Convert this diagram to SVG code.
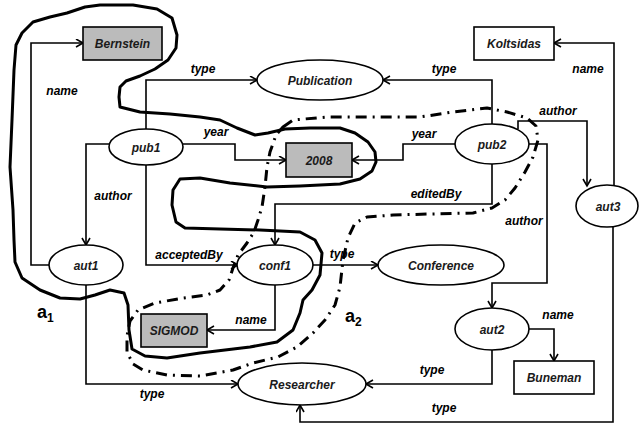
<svg xmlns="http://www.w3.org/2000/svg" width="641" height="426" viewBox="0 0 641 426">
<defs>
<marker id="arr" markerUnits="userSpaceOnUse" markerWidth="10" markerHeight="10" refX="8" refY="4.5" orient="auto">
<path d="M1,0.5 L8,4.5 L1,8.5" fill="none" stroke="#000" stroke-width="1.6"/>
</marker>
<style>
.e{fill:none;stroke:#000;stroke-width:1.6;marker-end:url(#arr)}
.n{fill:#fff;stroke:#000;stroke-width:1.6}
.g{fill:#bbbbbb;stroke:#000;stroke-width:1.6}
.t{font-family:"Liberation Sans",Arial,sans-serif;font-size:12px;font-weight:bold;font-style:italic;text-anchor:middle;fill:#1a1a1a}
.l{font-family:"Liberation Sans",Arial,sans-serif;font-size:12px;font-weight:bold;font-style:italic;text-anchor:middle;fill:#000}
.a{font-family:"Liberation Sans",Arial,sans-serif;font-size:18px;font-weight:bold;fill:#000}
.c1{fill:none;stroke:#000;stroke-width:3;stroke-linejoin:round;stroke-linecap:round}
.c2{fill:none;stroke:#000;stroke-width:3;stroke-dasharray:11,6,2,6;stroke-linejoin:round}
</style>
</defs>
<rect width="641" height="426" fill="#fff"/>
<g id="connectors">
<path class="e" d="M49,265 H31 V43 H83"/>
<path class="e" d="M146,129 V80 H257"/>
<path class="e" d="M183,144 H235 V160 H286"/>
<path class="e" d="M110,144 H86 V245"/>
<path class="e" d="M146,165 V265 H238"/>
<path class="e" d="M492,124 V80 H383"/>
<path class="e" d="M455,144 H403 V160 H352"/>
<path class="e" d="M492,164 V204 H275 V245"/>
<path class="e" d="M518,129 V121 H587 V186"/>
<path class="e" d="M529,144 H547 V283 H492 V308"/>
<path class="e" d="M614,186 V43 H554"/>
<path class="e" d="M613,226 V422 H300 V405"/>
<path class="e" d="M492,350 V384 H366"/>
<path class="e" d="M529,329 H554 V361"/>
<path class="e" d="M86,285 V384 H238"/>
<path class="e" d="M313,265 H378"/>
<path class="e" d="M275,285 V330 H207"/>
<text class="l" x="62" y="95">name</text>
<text class="l" x="203" y="73">type</text>
<text class="l" x="216" y="136">year</text>
<text class="l" x="113" y="200">author</text>
<text class="l" x="189" y="259">acceptedBy</text>
<text class="l" x="444" y="73">type</text>
<text class="l" x="424" y="138">year</text>
<text class="l" x="436" y="198">editedBy</text>
<text class="l" x="558" y="115">author</text>
<text class="l" x="588" y="73">name</text>
<text class="l" x="524" y="225">author</text>
<text class="l" x="342" y="258">type</text>
<text class="l" x="251" y="324">name</text>
<text class="l" x="558" y="319">name</text>
<text class="l" x="432" y="374">type</text>
<text class="l" x="444" y="412">type</text>
<text class="l" x="152" y="398">type</text>
</g>
<g id="Bernstein"><rect class="g" x="83" y="27" width="79" height="33"/><text class="t" x="122.5" y="47.5">Bernstein</text></g>
<g id="Publication"><ellipse class="n" cx="320" cy="80" rx="63" ry="20"/><text class="t" x="320" y="84.5">Publication</text></g>
<g id="pub1"><ellipse class="n" cx="146" cy="147" rx="37" ry="18"/><text class="t" x="146" y="151.5">pub1</text></g>
<g id="n2008"><rect class="g" x="286" y="143" width="66" height="34"/><text class="t" x="319" y="164.5">2008</text></g>
<g id="pub2"><ellipse class="n" cx="492" cy="144" rx="37" ry="20"/><text class="t" x="492" y="148.5">pub2</text></g>
<g id="Koltsidas"><rect class="n" x="474" y="27" width="80" height="33"/><text class="t" x="514" y="47.5">Koltsidas</text></g>
<g id="aut3"><ellipse class="n" cx="607" cy="206" rx="31" ry="21"/><text class="t" x="608" y="210.5">aut3</text></g>
<g id="aut1"><ellipse class="n" cx="86" cy="265" rx="37" ry="20"/><text class="t" x="86" y="269.5">aut1</text></g>
<g id="conf1"><ellipse class="n" cx="275" cy="265" rx="38" ry="20"/><text class="t" x="275" y="269.5">conf1</text></g>
<g id="Conference"><ellipse class="n" cx="441" cy="265" rx="63" ry="20"/><text class="t" x="441" y="269.5">Conference</text></g>
<g id="SIGMOD"><rect class="g" x="141" y="314" width="66" height="33"/><text class="t" x="174" y="334.5">SIGMOD</text></g>
<g id="aut2"><ellipse class="n" cx="492" cy="329" rx="37" ry="21"/><text class="t" x="492" y="333.5">aut2</text></g>
<g id="Buneman"><rect class="n" x="514" y="361" width="80" height="33"/><text class="t" x="554" y="381.5">Buneman</text></g>
<g id="Researcher"><ellipse class="n" cx="302" cy="384" rx="64" ry="21"/><text class="t" x="302" y="388.5">Researcher</text></g>
<g id="a1">
<path class="c1" d="M120,87 L119,97 L120,107 L140,112 L170,114 L200,117 L220,120 L237,128 L255,135 L268,133 L285,129 L310,128 L340,128 L355,133 L368,142 L375,152 L376,162 L372,171 L360,179 L340,184 L300,186 L267,187 L230,183 L200,178 L180,179 L173,190 L172,205 L176,222 L185,228 L220,229 L260,230 L300,232 L315,240 L322,253 L320,275 L312,290 L303,300 L300,313 L293,330 L277,342 L250,347 L200,353 L167,358 L145,356 L132,349 L129,330 L128,305 L124,293 L110,290 L95,295 L80,299 L60,298 L40,290 L22,278 L15,262 L14,240 L13,210 L10,167 L12,120 L14,70 L16,45 L22,33 L33,22 L50,17 L67,13 L85,7 L100,5 L133,5 L157,9 L172,18 L177,35 L176,48 L168,60 L155,69 L140,76 L126,81 Z"/>
<text class="a" x="37" y="318">a<tspan font-size="12" dy="4">1</tspan></text>
</g>
<g id="a2">
<path class="c2" d="M283,127 L293,120 L327,117 L377,117 L420,117 L453,112 L487,108 L507,112 L527,118 L536,126 L538,140 L533,157 L525,172 L515,188 L505,200 L492,208 L473,213 L430,214 L393,215 L367,217 L355,223 L348,238 L343,260 L340,287 L335,305 L325,320 L313,333 L297,347 L278,357 L253,363 L233,370 L200,376 L167,375 L143,370 L133,364 L127,352 L127,336 L130,321 L138,310 L155,303 L183,298 L207,295 L220,290 L229,280 L233,268 L238,255 L247,243 L254,232 L258,220 L262,207 L265,187 L267,167 L270,152 L276,135 Z"/>
<text class="a" x="345" y="322">a<tspan font-size="12" dy="4">2</tspan></text>
</g>
</svg>
